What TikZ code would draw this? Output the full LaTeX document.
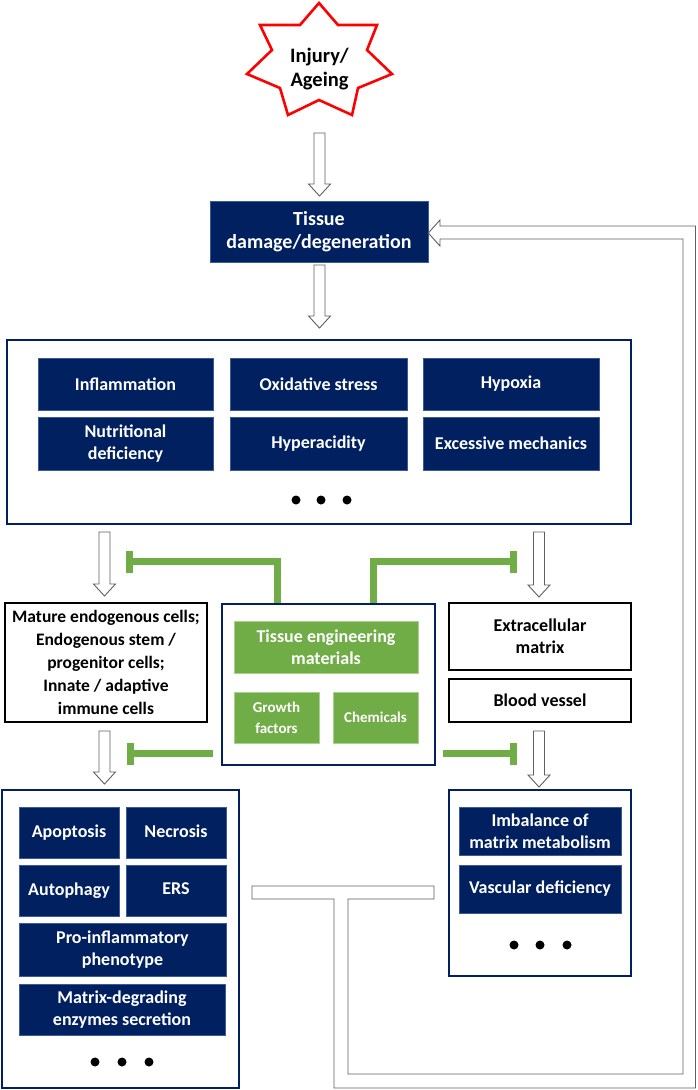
\documentclass[tikz,border=0pt]{standalone}
\usepackage{fontspec}
\setmainfont{Carlito}
\usetikzlibrary{arrows.meta,calc}
\definecolor{navy}{HTML}{002060}
\definecolor{navyedge}{HTML}{3A5A9A}
\definecolor{tgreen}{HTML}{70AD47}
\definecolor{tgreenedge}{HTML}{A9D18E}
\definecolor{loopgray}{HTML}{5F5F5F}
\newcommand\hollowdown[2]{%
  \draw[harrow] let \p1=(#1), \p2=(#2) in
    (\x1-5.5pt,\y1) -- (\x1+5.5pt,\y1) -- (\x1+5.5pt,\y2+12pt) -- (\x1+11pt,\y2+12pt)
    -- (\x1,\y2) -- (\x1-11pt,\y2+12pt) -- (\x1-5.5pt,\y2+12pt) -- cycle;}
\begin{document}
\begin{tikzpicture}[x=1pt,y=-1pt,
  txt/.style={font=\bfseries\fontsize{18}{21.6}\selectfont, align=center, inner sep=0pt},
  nbox/.style={txt, fill=navy, draw=navyedge, line width=0.6pt, text=white},
  gbox/.style={txt, fill=tgreen, draw=tgreenedge, line width=0.6pt, text=white},
  kbox/.style={txt, draw=black, line width=2.2pt, fill=white, text=black},
  container/.style={draw=navy, line width=2.2pt, fill=white, inner sep=0pt},
  harrow/.style={draw=loopgray, fill=white, line width=0.9pt, line join=miter},
  inh/.style={draw=tgreen, line width=7pt, line join=miter, -{Bar[width=22pt]}},
  dot/.style={circle, fill=black, inner sep=0pt, minimum size=9pt}]
\useasboundingbox (0,0) rectangle (697,1090);

% star
\draw[red, line width=2.6pt, line join=miter, fill=white]
  (319,3) -- (300,25) -- (260,25) -- (272,50) -- (247,74) -- (280,88) -- (288,115)
  -- (319,100) -- (352,115) -- (358,88) -- (392,74) -- (367,50) -- (377,25) -- (338,25) -- cycle;
\node[txt, font=\bfseries\fontsize{20.5}{24}\selectfont] (inj) at (319.5,69) {Injury/\\Ageing};

% tissue damage
\node[nbox, font=\bfseries\fontsize{20}{23.5}\selectfont, minimum width=218pt, minimum height=61pt] (tissue) at (319,231.5) {Tissue\\damage/degeneration};

% stress container
\node[container, minimum width=624pt, minimum height=184pt] (stress) at (319,432) {};
\node[nbox, minimum width=175pt, minimum height=52pt] (infl) at (125.5,384) {Inflammation};
\node[nbox, minimum width=177pt, minimum height=52pt] (oxid) at (318.5,384) {Oxidative stress};
\node[nbox, minimum width=176pt, minimum height=52pt] (hypo) at (511,384) {Hypoxia\vphantom{I}};
\node[nbox, minimum width=175pt, minimum height=53pt] (nutr) at (125.5,443.5) {Nutritional\\deficiency};
\node[nbox, minimum width=177pt, minimum height=53pt] (hyper) at (318.5,443.5) {Hyperacidity};
\node[nbox, minimum width=176pt, minimum height=53pt] (exces) at (511,443.5) {Excessive mechanics};
\node[dot] (sd1) at (296,500) {};
\node[dot] (sd2) at (321,500) {};
\node[dot] (sd3) at (347,500) {};

% middle row
\node[kbox, font=\bfseries\fontsize{17.5}{23}\selectfont, minimum width=202pt, minimum height=119pt] (cells) at (106,662.5)
  {Mature endogenous cells;\\Endogenous stem /\\progenitor cells;\\Innate / adaptive\\immune cells};
\node[container, minimum width=213pt, minimum height=161pt] (tem) at (328.5,684.5) {};
\node[gbox, minimum width=184pt, minimum height=52pt] (temat) at (326,647) {Tissue engineering\\materials};
\node[gbox, font=\bfseries\fontsize{15}{21}\selectfont, minimum width=85pt, minimum height=51pt] (growth) at (276.5,717.5) {Growth\\factors};
\node[gbox, font=\bfseries\fontsize{15}{18}\selectfont, minimum width=85pt, minimum height=51pt] (chem) at (375.5,717.5) {Chemicals};
\node[kbox, minimum width=182pt, minimum height=67pt] (ecm) at (540,636.5) {Extracellular\\matrix};
\node[kbox, minimum width=182pt, minimum height=43pt] (blood) at (540,700.5) {Blood vessel};

% bottom left
\node[container, minimum width=237pt, minimum height=298pt] (fate) at (120.5,939) {};
\node[nbox, minimum width=100pt, minimum height=51pt] (apop) at (69,832.5) {Apoptosis};
\node[nbox, minimum width=100pt, minimum height=51pt] (necr) at (176,832.5) {Necrosis\vphantom{p}};
\node[nbox, minimum width=100pt, minimum height=51pt] (auto) at (69,890.5) {Autophagy};
\node[nbox, minimum width=100pt, minimum height=51pt] (ers) at (176,890.5) {ERS\vphantom{p}};
\node[nbox, minimum width=207pt, minimum height=53pt] (proinf) at (122.5,949.5) {Pro-inflammatory\\phenotype};
\node[nbox, minimum width=206pt, minimum height=51pt] (matdeg) at (122,1009.5) {Matrix-degrading\\enzymes secretion};
\node[dot] (fd1) at (95,1062) {};
\node[dot] (fd2) at (122,1062) {};
\node[dot] (fd3) at (149,1062) {};

% bottom right
\node[container, minimum width=182pt, minimum height=186pt] (mat) at (540,883) {};
\node[nbox, minimum width=162pt, minimum height=48pt] (imbal) at (540,831) {Imbalance of\\matrix metabolism};
\node[nbox, minimum width=162pt, minimum height=48pt] (vasc) at (540,889) {Vascular deficiency};
\node[dot] (md1) at (514,945) {};
\node[dot] (md2) at (540,945) {};
\node[dot] (md3) at (567,945) {};

% hollow arrows
\coordinate (a1s) at (319.5,133);  \coordinate (a1e) at (319.5,196);
\coordinate (a2s) at (319.5,265);  \coordinate (a2e) at (319.5,328);
\coordinate (a3s) at (104.5,532);  \coordinate (a3e) at (104.5,596);
\coordinate (a4s) at (539,532);    \coordinate (a4e) at (539,597);
\coordinate (a5s) at (104.5,731);  \coordinate (a5e) at (104.5,784);
\coordinate (a6s) at (539,731);    \coordinate (a6e) at (539,787);
\hollowdown{a1s}{a1e}
\hollowdown{a2s}{a2e}
\hollowdown{a3s}{a3e}
\hollowdown{a4s}{a4e}
\hollowdown{a5s}{a5e}
\hollowdown{a6s}{a6e}

% green inhibitions
\coordinate (g1s) at (277,603);   \coordinate (g1e) at (126,561.5);
\coordinate (g2s) at (373,603);   \coordinate (g2e) at (517,561.5);
\coordinate (g3s) at (213,753.5); \coordinate (g3e) at (127,753.5);
\coordinate (g4s) at (443,753.5); \coordinate (g4e) at (517,753.5);
\draw[inh] (g1s) |- (g1e);
\draw[inh] (g2s) |- (g2e);
\draw[inh] (g3s) -- (g3e);
\draw[inh] (g4s) -- (g4e);

% feedback loop
\draw[harrow]
  (252,886) -- (434,886) -- (434,899) -- (348,899) -- (348,1074) -- (683,1074)
  -- (683,239) -- (440,239) -- (440,246) -- (tissue.east |- 0,233) -- (440,220) -- (440,226)
  -- (695.5,226) -- (695.5,1088) -- (334,1088) -- (334,899) -- (252,899) -- cycle;
\end{tikzpicture}
\end{document}
